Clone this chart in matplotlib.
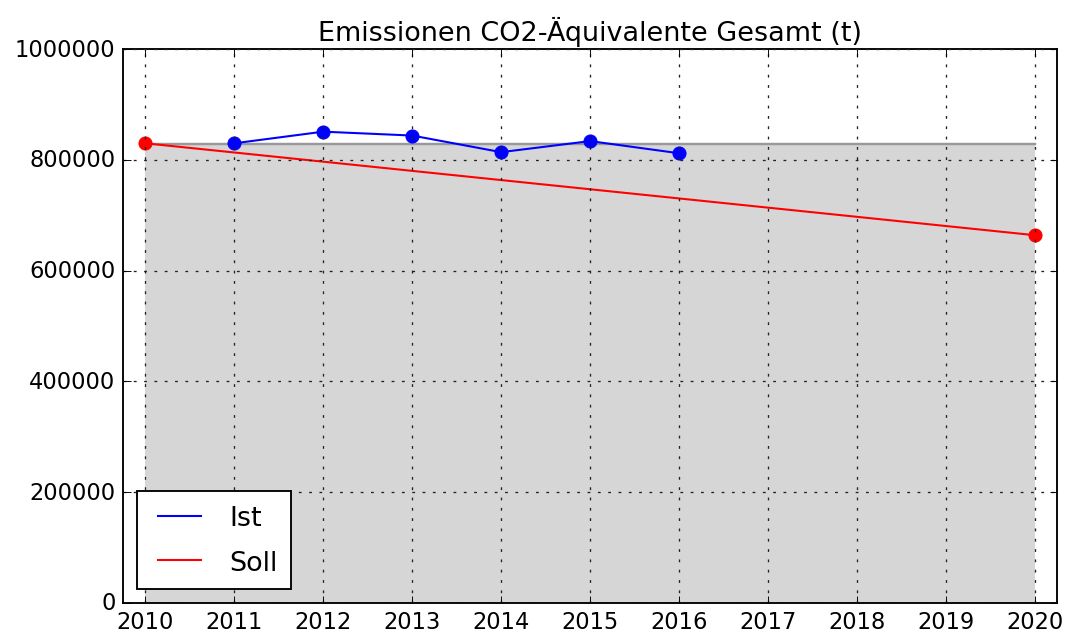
import numpy as np
import matplotlib
matplotlib.use('Agg')
import matplotlib.pyplot as plt

# Ist values (t CO2-equivalent)
ist_years = [2011, 2012, 2013, 2014, 2015, 2016]
ist_values = [830000, 851000, 844000, 814000, 834000, 812000]

# Soll (target) path
soll_years = [2010, 2020]
soll_values = [830000, 664000]

# grey reference area (base year level)
ref_years = [2010, 2020]
ref_level = [828000, 828000]

year_ticks = list(range(2010, 2021))
y_ticks = [0, 200000, 400000, 600000, 800000, 1000000]

plt.style.use('classic')
plt.rcParams['font.family'] = ['DejaVu Sans']

# original looks like a classic-style figure rendered at a higher dpi
dpi = 135
fig = plt.figure(figsize=(1070 / dpi, 635 / dpi), dpi=dpi, facecolor='white')
ax = fig.add_axes([0.115, 0.049, 0.873, 0.872])

ax.fill_between(ref_years, 0, ref_level, color='#d6d6d6', edgecolor='none')
ax.plot(ref_years, ref_level, color='#999999', linewidth=1.3)

ax.plot(ist_years, ist_values, color='blue', linewidth=1.1, label='Ist')
ax.plot(ist_years, ist_values, 'o', color='blue', markeredgecolor='blue', markersize=7)
ax.plot(soll_years, soll_values, color='red', linewidth=1.1, label='Soll')
ax.plot(soll_years, soll_values, 'o', color='red', markeredgecolor='red', markersize=7)

ax.set_xlim(2009.75, 2020.25)
ax.set_ylim(0, 1000000)
ax.set_xticks(year_ticks)
ax.set_xticklabels([str(y) for y in year_ticks])
ax.set_yticks(y_ticks)
ax.set_yticklabels([str(v) for v in y_ticks])
ax.grid(True, color='#222222', linestyle=(0, (1.5, 4)), linewidth=0.7)

ax.set_title('Emissionen CO2-Äquivalente Gesamt (t)')
ax.legend(loc='lower left', fontsize='large', framealpha=1,
          labelspacing=0.7, borderpad=0.5, handlelength=2.2, handletextpad=0.72)

fig.savefig('out.png', dpi=dpi, facecolor='white')
